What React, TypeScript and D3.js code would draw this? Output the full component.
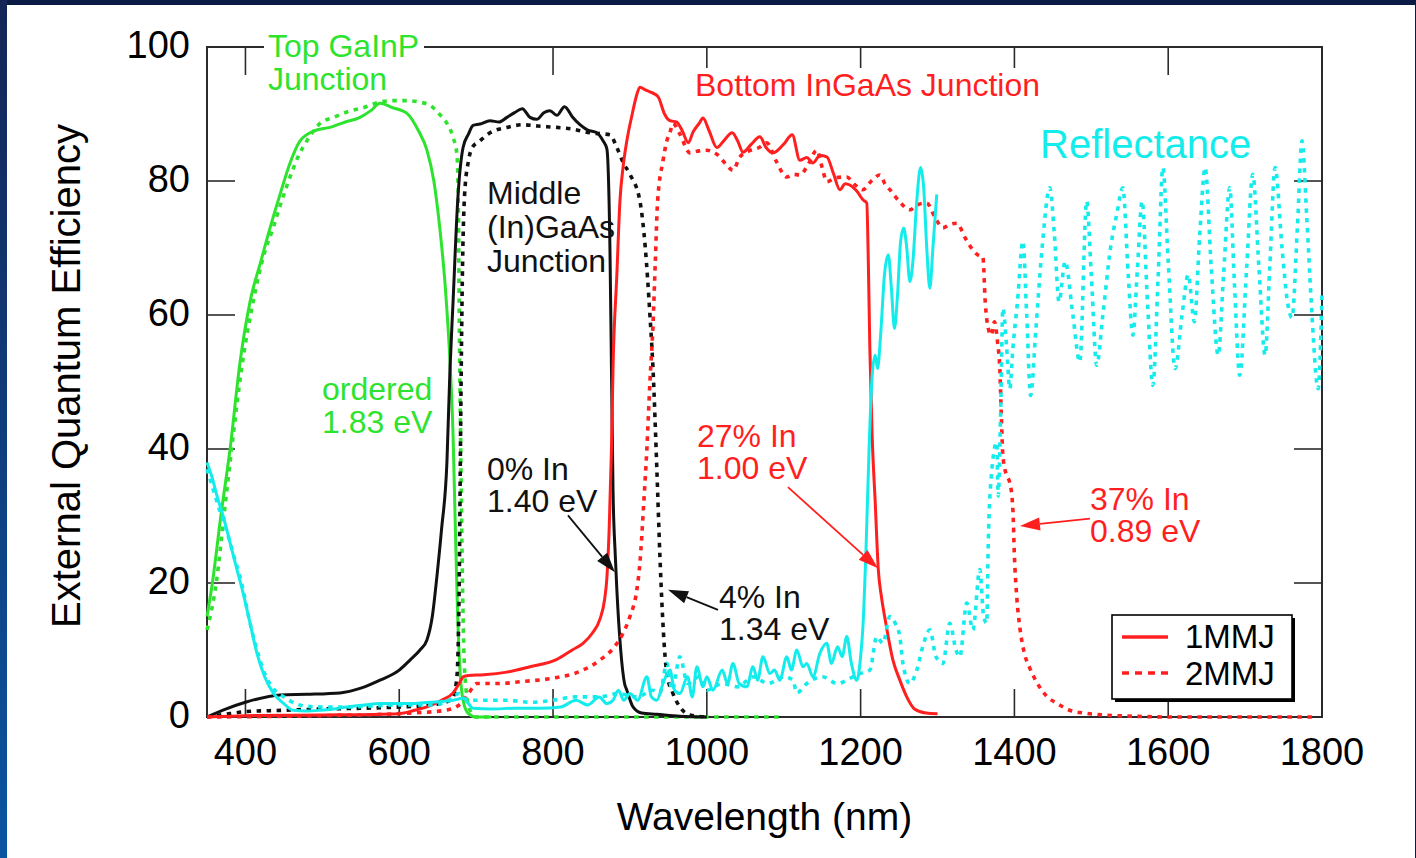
import React from "react";
import * as d3 from "d3";

type Pt = [number, number];

// Axis ticks
const xTicks = [400, 600, 800, 1000, 1200, 1400, 1600, 1800];
const yTicks = [0, 20, 40, 60, 80, 100];

// Wavelength (nm), EQE or reflectance (%)
const topGaInP1: Pt[] = [
  [350, 15], [357, 20], [368, 30], [380, 40], [393, 53], [406, 62], [420, 68], [432, 73], [445, 78],
  [458, 82.7], [471, 86], [490, 87.5], [510, 88], [530, 88.8], [549, 89.5], [563, 90.5], [575, 91.6],
  [590, 91], [610, 90.1], [625, 87.5], [636, 84.6], [645, 80], [653, 72.7], [660, 64], [666, 53],
  [670, 42], [673, 28], [676, 15], [679, 7], [683, 2.5], [690, 0.5], [700, 0], [720, 0],
];
const topGaInP2: Pt[] = [
  [350, 13], [362, 20], [372, 30], [382, 40], [395, 52], [410, 62], [424, 69], [436, 73], [447, 77],
  [458, 80.6], [470, 84], [480, 86], [497, 88.6], [515, 89.5], [532, 90.3], [555, 91], [575, 91.8],
  [595, 92], [610, 92], [625, 91.8], [640, 91.3], [652, 90], [662, 88.6], [670, 86.5], [675, 84],
  [677, 75], [678, 60], [680, 40], [682, 22], [684, 10], [687, 4], [692, 1], [700, 0], [1100, 0],
];
const middleGaAs1: Pt[] = [
  [350, 0], [370, 1], [400, 2.2], [445, 3.3], [480, 3.4], [523, 3.6], [550, 4.3], [575, 5.5], [600, 7],
  [614, 8.5], [627, 10], [636, 11.5], [643, 15], [649, 21], [655, 28], [662, 38], [666, 52], [670, 62],
  [676, 77], [683, 85], [690, 87], [696, 88.3], [705, 88.5], [718, 89], [730, 88.8], [740, 89.5],
  [750, 90.2], [760, 90.8], [770, 89.5], [779, 89.2], [788, 90.2], [796, 90.5], [805, 89.8], [815, 91.1],
  [825, 89.6], [835, 88.4], [845, 87.6], [857, 87.2], [865, 86], [870, 84.8], [874, 70], [876, 52],
  [878, 34], [881, 24], [883, 19], [888, 10], [893, 5], [896, 4], [904, 1.5], [915, 0.6], [935, 0.4],
  [965, 0.1], [1000, 0],
];
const middleGaAs2: Pt[] = [
  [350, 0], [380, 0.5], [400, 0.8], [450, 1], [500, 1.2], [550, 1.3], [600, 1.5], [640, 1.8], [660, 2.2],
  [670, 3], [675, 6], [678, 20], [680, 45], [682, 65], [685, 78], [690, 83], [695, 85], [705, 86],
  [718, 87.2], [740, 88], [761, 88.4], [780, 88.2], [805, 88], [823, 87.8], [848, 87.2], [874, 86.9],
  [883, 85], [891, 82.8], [900, 81], [913, 77], [920, 70], [926, 60], [930, 52], [935, 37], [939, 24],
  [942, 16], [948, 6.5], [956, 3.5], [965, 1.5], [978, 0.3], [1000, 0],
];
const bottomInGaAs1: Pt[] = [
  [350, 0], [400, 0.2], [500, 0.3], [600, 0.5], [620, 1], [636, 1.5], [655, 2.5], [670, 3.6], [678, 5],
  [683, 6], [690, 6.2], [710, 6.3], [740, 6.7], [770, 7.5], [805, 8.6], [825, 10], [839, 11], [851, 12.5],
  [861, 14.6], [867, 17.5], [870, 20.7], [873, 28], [876, 40], [878, 52], [883, 66], [887, 77], [891, 82],
  [896, 86], [903, 90], [908, 92.5], [913, 94], [920, 93.6], [926, 93.3], [932, 93], [937, 92.5], [945, 90],
  [952, 89], [961, 88.8], [968, 87.5], [976, 85.7], [982, 87.3], [990, 88.6], [995, 89.4], [1003, 87.5],
  [1013, 85], [1022, 86], [1033, 87.2], [1040, 86], [1047, 84.3], [1058, 85.5], [1069, 86.6], [1077, 85],
  [1086, 84.2], [1100, 85.5], [1111, 86.9], [1121, 83.1], [1130, 83.5], [1138, 82.7], [1147, 83.8],
  [1156, 83.6], [1165, 81], [1173, 78.7], [1180, 79.6], [1186, 79.4], [1195, 78.5], [1203, 77.2],
  [1208, 76.7], [1210, 68], [1212, 55], [1215, 42], [1219, 32], [1223, 22], [1227, 18], [1232, 14.5],
  [1242, 8.5], [1251, 5.5], [1260, 3], [1270, 1.2], [1285, 0.6], [1300, 0.5],
];
const bottomInGaAs2: Pt[] = [
  [350, 0], [500, 0.2], [600, 0.5], [660, 1], [680, 2], [690, 3.5], [701, 5], [730, 5], [760, 5.3],
  [800, 5.8], [835, 6.8], [861, 8.5], [880, 10.5], [891, 12.5], [900, 15], [909, 19], [913, 23], [918, 32],
  [922, 40], [926, 50], [930, 58.5], [933, 68], [936, 77], [943, 83], [948, 86], [952, 87.2], [956, 88.6],
  [965, 87], [978, 84.2], [990, 84.5], [1000, 84.6], [1013, 84], [1025, 82.5], [1034, 81.6], [1043, 83.6],
  [1055, 84.5], [1068, 85], [1078, 85.7], [1090, 83], [1104, 80.6], [1112, 81], [1121, 80.9], [1132, 82.5],
  [1143, 84.6], [1150, 82], [1156, 79.9], [1168, 80.5], [1182, 80.6], [1192, 79.5], [1203, 78.7],
  [1214, 80], [1225, 80.9], [1232, 79.5], [1238, 78.7], [1250, 77], [1264, 75.7], [1275, 76.5],
  [1286, 76.7], [1297, 74.5], [1307, 73], [1316, 73.5], [1325, 73.7], [1336, 71.5], [1346, 69.7],
  [1355, 68.8], [1359, 68.7], [1362, 62], [1366, 58], [1370, 57], [1374, 59], [1378, 56], [1381, 52],
  [1383, 45], [1385, 39], [1390, 36], [1394, 35], [1398, 31], [1400, 24], [1403, 18], [1407, 13.4],
  [1413, 9.5], [1420, 7.3], [1430, 5], [1442, 3.1], [1456, 2], [1472, 1], [1490, 0.6], [1515, 0.3],
  [1560, 0.1], [1600, 0], [1790, 0],
];
const reflectance1: Pt[] = [
  [350, 38], [356, 36], [363, 33], [371, 30], [380, 26], [389, 22], [397, 18.5], [406, 14], [415, 9.5],
  [425, 6], [436, 3.6], [450, 2], [462, 1], [480, 0.9], [497, 1], [515, 1.2], [532, 1.5], [555, 1.8],
  [575, 2], [600, 2], [618, 2], [640, 2.2], [655, 2.3], [670, 2.5], [683, 2.8], [690, 2], [696, 1.3],
  [720, 1.2], [750, 1.3], [783, 1.3], [810, 1.5], [830, 2.5], [845, 1.8], [860, 3], [870, 2], [878, 2.5],
  [885, 4], [892, 2.5], [900, 3.5], [910, 2.5], [922, 6], [928, 3], [935, 2.5], [943, 5], [952, 7],
  [958, 4], [965, 3.5], [975, 6], [981, 3], [987, 7.5], [995, 4.5], [1000, 6], [1008, 4], [1020, 7],
  [1027, 5], [1034, 8], [1042, 5], [1052, 4.5], [1060, 7.5], [1066, 5.5], [1073, 9], [1082, 6.5],
  [1088, 7], [1095, 5.5], [1104, 9], [1110, 7], [1117, 10], [1125, 7.5], [1130, 8], [1138, 6],
  [1147, 9.5], [1156, 11], [1162, 8], [1170, 10.5], [1176, 9], [1182, 12], [1188, 8], [1195, 5.5],
  [1200, 9], [1203, 13.5], [1207, 25], [1211, 40], [1215, 51], [1219, 54], [1222, 52], [1226, 57],
  [1231, 66], [1236, 69], [1240, 64], [1244, 58], [1248, 63], [1252, 71], [1256, 73], [1260, 70],
  [1264, 65], [1268, 68], [1273, 77], [1278, 82], [1282, 79], [1286, 70], [1290, 64], [1294, 70], [1299, 78],
];
const reflectance2: Pt[] = [
  [350, 37], [358, 34], [366, 31], [375, 28], [385, 24], [395, 20], [406, 14], [415, 10], [425, 6.5],
  [438, 4], [450, 3], [465, 2], [480, 1.6], [500, 1.5], [530, 1.5], [560, 1.6], [600, 1.8], [640, 1.8],
  [665, 2.5], [678, 3.5], [685, 2.8], [695, 2.5], [709, 2.5], [740, 2.5], [770, 2.2], [800, 2.5],
  [830, 3], [860, 3], [885, 3.5], [910, 3], [930, 4], [939, 3.6], [948, 8], [955, 4], [965, 9], [975, 5],
  [990, 6], [1000, 4], [1020, 5], [1040, 4.5], [1060, 6], [1080, 5], [1100, 6], [1112, 5.5], [1117, 3.6],
  [1130, 5], [1150, 6], [1170, 5], [1190, 6], [1200, 6.5], [1212, 7], [1221, 12], [1229, 11], [1238, 15],
  [1245, 14], [1251, 12], [1255, 8], [1264, 5], [1273, 7], [1282, 11], [1290, 13], [1298, 9], [1307, 8],
  [1316, 14], [1324, 10], [1329, 9], [1338, 17], [1346, 13], [1355, 22], [1360, 15], [1364, 14],
  [1366, 26], [1370, 36], [1377, 41], [1379, 33], [1382, 45], [1385, 61], [1390, 55], [1394, 49],
  [1398, 55], [1404, 62], [1411, 71], [1416, 60], [1421, 48], [1428, 58], [1436, 70], [1446, 79],
  [1452, 72], [1458, 62], [1466, 68], [1476, 60], [1485, 53], [1494, 77], [1500, 66], [1507, 52.5],
  [1515, 60], [1525, 70], [1533, 75], [1541, 79], [1548, 66], [1554, 57], [1560, 67], [1566, 77],
  [1573, 62], [1580, 49.5], [1587, 66], [1593, 82], [1600, 68], [1609, 52], [1618, 60], [1626, 66],
  [1634, 59], [1641, 72], [1648, 82], [1656, 67], [1665, 54], [1672, 66], [1680, 79], [1686, 65],
  [1693, 51], [1702, 67], [1710, 81], [1718, 67], [1726, 54], [1732, 67], [1739, 82], [1748, 70],
  [1755, 62], [1761, 59.6], [1768, 73], [1774, 86], [1780, 75], [1786, 62], [1795, 49], [1800, 63],
];

const GREEN = "#2ee32e";
const RED = "#ff1f1f";
const CYAN = "#14ecec";
const BLACK = "#111111";

const series = [
  { name: "top-2", data: topGaInP2, color: GREEN, dashed: true },
  { name: "top-1", data: topGaInP1, color: GREEN, dashed: false },
  { name: "mid-2", data: middleGaAs2, color: BLACK, dashed: true },
  { name: "mid-1", data: middleGaAs1, color: BLACK, dashed: false },
  { name: "bot-2", data: bottomInGaAs2, color: RED, dashed: true },
  { name: "bot-1", data: bottomInGaAs1, color: RED, dashed: false },
  { name: "refl-2", data: reflectance2, color: CYAN, dashed: true },
  { name: "refl-1", data: reflectance1, color: CYAN, dashed: false },
];

// Caption positions in data units: [nm, %] of the first baseline; gap between lines in %
const labels = [
  { lines: ["Top GaInP", "Junction"], at: [429.3, 98.5] as Pt, color: GREEN, size: 32, gap: 4.85 },
  { lines: ["Bottom InGaAs Junction"], at: [984.6, 92.7] as Pt, color: RED, size: 32, gap: 0 },
  { lines: ["Middle", "(In)GaAs", "Junction"], at: [714.1, 76.6] as Pt, color: BLACK, size: 32, gap: 5.1 },
  { lines: ["ordered", "1.83 eV"], at: [499.6, 47.3] as Pt, color: GREEN, size: 32, gap: 4.85 },
  { lines: ["0% In", "1.40 eV"], at: [714.1, 35.4] as Pt, color: BLACK, size: 32, gap: 4.85 },
  { lines: ["4% In", "1.34 eV"], at: [1015.8, 16.3] as Pt, color: BLACK, size: 32, gap: 4.85 },
  { lines: ["27% In", "1.00 eV"], at: [987.2, 40.3] as Pt, color: RED, size: 32, gap: 4.85 },
  { lines: ["37% In", "0.89 eV"], at: [1498.3, 30.9] as Pt, color: RED, size: 32, gap: 4.85 },
  { lines: ["Reflectance"], at: [1433.3, 83.4] as Pt, color: CYAN, size: 40, gap: 0 },
];

// Arrows: from -> tip, in data units
const arrows = [
  { from: [819.4, 30.1] as Pt, to: [880.5, 21.6] as Pt, color: BLACK },
  { from: [1014.5, 16] as Pt, to: [949.5, 19] as Pt, color: BLACK },
  { from: [1105.5, 34.3] as Pt, to: [1222.6, 22.2] as Pt, color: RED },
  { from: [1498.2, 29.6] as Pt, to: [1407.2, 28.5] as Pt, color: RED },
];

const legendItems = [
  { label: "1MMJ", dashed: false },
  { label: "2MMJ", dashed: true },
];

const FONT = "'Liberation Sans', Arial, Helvetica, sans-serif";

export default function App() {
  const W = 1416;
  const H = 858;
  const left = 207, right = 1322, top = 47, bottom = 717;

  const x = d3.scaleLinear().domain([350, 1800]).range([left, right]);
  const y = d3.scaleLinear().domain([0, 100]).range([bottom, top]);
  const line = d3
    .line<Pt>()
    .x((d) => x(d[0]))
    .y((d) => y(d[1]))
    .curve(d3.curveMonotoneX);

  const tickLen = 28;

  const arrowHead = (a: { from: Pt; to: Pt }) => {
    const x1 = x(a.from[0]), y1 = y(a.from[1]);
    const x2 = x(a.to[0]), y2 = y(a.to[1]);
    const ang = Math.atan2(y2 - y1, x2 - x1);
    const len = 20, half = 6.5;
    const bx = x2 - len * Math.cos(ang), by = y2 - len * Math.sin(ang);
    const px = -Math.sin(ang) * half, py = Math.cos(ang) * half;
    return {
      line: [x1, y1, bx, by],
      head: `${x2},${y2} ${bx + px},${by + py} ${bx - px},${by - py}`,
    };
  };

  const legX = 1112, legY = 615, legW = 180, legH = 84;

  return (
    <div style={{ position: "fixed", left: 0, top: 0, width: W, height: H }}>
      <svg width={W} height={H} style={{ display: "block" }} fontFamily={FONT}>
        <defs>
          <linearGradient id="edge" x1="0" y1="0" x2="0" y2="1">
            <stop offset="0" stopColor="#142556" />
            <stop offset="1" stopColor="#0a55a1" />
          </linearGradient>
        </defs>
        <rect x={0} y={0} width={W} height={H} fill="#0c1a46" />
        <rect x={0} y={0} width={7} height={H} fill="url(#edge)" />
        <rect x={7} y={5} width={1408} height={H - 5} fill="#ffffff" />

        {/* frame */}
        <rect x={left} y={top} width={right - left} height={bottom - top} fill="none" stroke="#2b2b2b" strokeWidth={2} />

        {/* ticks on all four sides */}
        {xTicks.map((t) => (
          <g key={"xt" + t}>
            <line x1={x(t)} x2={x(t)} y1={bottom} y2={bottom - tickLen} stroke="#2b2b2b" strokeWidth={1.6} />
            <line x1={x(t)} x2={x(t)} y1={top} y2={top + tickLen} stroke="#2b2b2b" strokeWidth={1.6} />
            <text x={x(t)} y={bottom + 48} fontSize={38} textAnchor="middle" fill="#000">
              {t}
            </text>
          </g>
        ))}
        {yTicks.map((t) => (
          <g key={"yt" + t}>
            <line x1={left} x2={left + tickLen} y1={y(t)} y2={y(t)} stroke="#2b2b2b" strokeWidth={1.6} />
            <line x1={right} x2={right - tickLen} y1={y(t)} y2={y(t)} stroke="#2b2b2b" strokeWidth={1.6} />
            <text x={left - 17} y={y(t) + 11} fontSize={38} textAnchor="end" fill="#000">
              {t}
            </text>
          </g>
        ))}

        {/* axis titles */}
        <text x={(left + right) / 2} y={830} fontSize={39} textAnchor="middle" fill="#000">
          Wavelength (nm)
        </text>
        <text
          transform={`translate(80, ${(top + bottom) / 2 - 6}) rotate(-90)`}
          fontSize={40}
          textAnchor="middle"
          fill="#000"
        >
          External Quantum Efficiency
        </text>

        {/* opaque boxes behind the two junction captions */}
        <rect x={264} y={28} width={160} height={68} fill="#fff" />
        <rect x={690} y={68} width={360} height={32} fill="#fff" />

        {/* curves */}
        {series.map((s) => (
          <path
            key={s.name}
            d={line(s.data) || ""}
            fill="none"
            stroke={s.color}
            strokeWidth={s.dashed ? 3.6 : 3}
            strokeDasharray={s.dashed ? "4.5 5.5" : undefined}
            strokeLinejoin="round"
          />
        ))}

        {/* captions */}
        {labels.map((l, i) => (
          <text key={"lab" + i} fontSize={l.size} fill={l.color}>
            {l.lines.map((ln, j) => (
              <tspan key={j} x={x(l.at[0])} y={y(l.at[1] - j * l.gap)}>
                {ln}
              </tspan>
            ))}
          </text>
        ))}

        {/* arrows */}
        {arrows.map((a, i) => {
          const g = arrowHead(a);
          return (
            <g key={"ar" + i}>
              <line x1={g.line[0]} y1={g.line[1]} x2={g.line[2]} y2={g.line[3]} stroke={a.color} strokeWidth={1.8} />
              <polygon points={g.head} fill={a.color} />
            </g>
          );
        })}

        {/* legend */}
        <rect x={legX + 3} y={legY + 3} width={legW} height={legH} fill="#000" />
        <rect x={legX} y={legY} width={legW} height={legH} fill="#fff" stroke="#000" strokeWidth={1.6} />
        {legendItems.map((it, i) => (
          <g key={it.label}>
            <line
              x1={legX + 10}
              x2={legX + 56}
              y1={legY + 22 + i * 36}
              y2={legY + 22 + i * 36}
              stroke={RED}
              strokeWidth={3.6}
              strokeDasharray={it.dashed ? "7 6" : undefined}
            />
            <text x={legX + 73} y={legY + 33 + i * 37} fontSize={33} fill="#000">
              {it.label}
            </text>
          </g>
        ))}
      </svg>
    </div>
  );
}
